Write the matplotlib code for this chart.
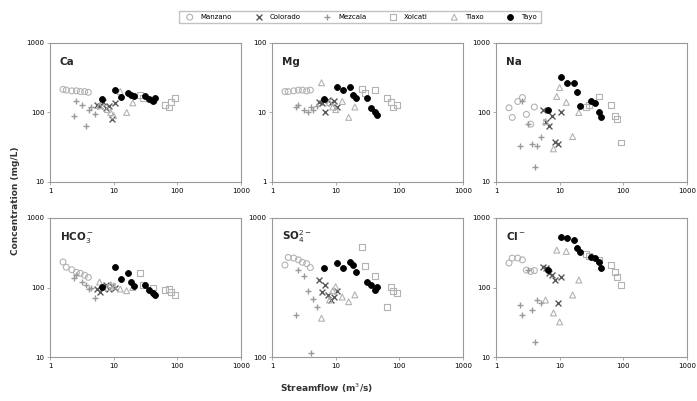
import numpy as np
import matplotlib
matplotlib.use("Agg")
import matplotlib.pyplot as plt

rivers = ["Manzano", "Colorado", "Mezcala", "Xolcatl", "Tlaxo", "Tayo"]

# streamflow (m3/s) per river
q_manzano = [1.6, 1.8, 2.2, 2.6, 3.0, 3.5, 4.0]
q_colorado = [5.5, 6.2, 6.8, 7.5, 8.4, 9.3, 10.5]
q_mezcala = [2.4, 2.6, 3.2, 3.7, 4.1, 4.4, 5.1]
q_xolcatl = [26, 29, 41, 64, 75, 80, 93]
q_tlaxo = [6, 8, 9, 10, 12.7, 16, 20]
q_tayo = [6.5, 10.5, 13, 17, 19, 21, 31, 36, 42, 44]

# concentrations (mg/L) per panel, per river
ca = {
    "Manzano": [215, 210, 205, 205, 200, 200, 195],
    "Colorado": [130, 122, 140, 115, 125, 80, 135],
    "Mezcala": [88, 144, 130, 63, 110, 120, 95],
    "Xolcatl": [180, 160, 150, 130, 118, 140, 164],
    "Tlaxo": [125, 110, 100, 90, 200, 100, 138],
    "Tayo": [155, 214, 165, 193, 180, 175, 170, 155, 148, 160],
}
mg = {
    "Manzano": [20, 20, 20.5, 21, 21, 20.5, 21],
    "Colorado": [14, 13.9, 10.3, 15, 13.9, 14.4, 12],
    "Mezcala": [12, 13, 11, 10.3, 12, 11, 12.5],
    "Xolcatl": [22, 19, 21, 16.4, 14, 11.8, 13],
    "Tlaxo": [26.8, 13.9, 12, 11, 14.4, 8.5, 12],
    "Tayo": [15.5, 23, 21, 23.5, 18, 16, 16.3, 11.8, 10.3, 9.3],
}
na = {
    "Manzano": [117, 85, 144, 164, 94, 68, 120],
    "Colorado": [110, 74, 63, 90, 38, 35, 100],
    "Mezcala": [33, 144, 68, 35, 16.5, 33, 45],
    "Xolcatl": [120, 130, 170, 130, 88, 80, 37],
    "Tlaxo": [74, 30, 170, 228, 140, 45, 100],
    "Tayo": [110, 325, 270, 270, 200, 123, 145, 135, 103, 87],
}
hco3 = {
    "Manzano": [233, 196, 180, 165, 160, 150, 140],
    "Colorado": [95, 86, 100, 110, 95, 105, 100],
    "Mezcala": [137, 150, 120, 110, 95, 100, 71],
    "Xolcatl": [162, 110, 100, 92, 95, 85, 78],
    "Tlaxo": [120, 100, 110, 105, 95, 90, 100],
    "Tayo": [102, 196, 131, 162, 120, 105, 108, 92, 83, 78],
}
so4 = {
    "Manzano": [459, 520, 515, 500, 480, 470, 440],
    "Colorado": [358, 293, 330, 280, 257, 270, 300],
    "Mezcala": [200, 423, 380, 300, 107, 260, 230],
    "Xolcatl": [618, 450, 380, 230, 319, 300, 290],
    "Tlaxo": [190, 257, 300, 320, 270, 250, 280],
    "Tayo": [437, 477, 437, 482, 459, 409, 347, 330, 303, 319],
}
cl = {
    "Manzano": [225, 265, 265, 250, 178, 170, 175],
    "Colorado": [200, 190, 160, 150, 128, 60, 140],
    "Mezcala": [56, 40, 178, 47, 16.5, 66, 60],
    "Xolcatl": [300, 280, 250, 210, 167, 140, 108],
    "Tlaxo": [66, 43, 345, 32, 330, 78, 128],
    "Tayo": [178, 537, 515, 480, 373, 325, 274, 265, 232, 190],
}

flows = {"Manzano": q_manzano, "Colorado": q_colorado, "Mezcala": q_mezcala,
         "Xolcatl": q_xolcatl, "Tlaxo": q_tlaxo, "Tayo": q_tayo}

# marker, colour, filled?
styles = {
    "Manzano": ("o", "0.7", False),
    "Colorado": ("x", "0.35", True),
    "Mezcala": ("+", "0.6", True),
    "Xolcatl": ("s", "0.7", False),
    "Tlaxo": ("^", "0.7", False),
    "Tayo": ("o", "black", True),
}

panels = [
    ("Ca", ca, (10, 1000), [10, 100, 1000]),
    ("Mg", mg, (1, 100), [1, 10, 100]),
    ("Na", na, (10, 1000), [10, 100, 1000]),
    (r"HCO$_3^-$", hco3, (10, 1000), [10, 100, 1000]),
    (r"SO$_4^{2-}$", so4, (100, 1000), [100, 1000]),
    (r"Cl$^-$", cl, (10, 1000), [10, 100, 1000]),
]

fig = plt.figure(figsize=(6.97, 4.01), dpi=100)
lefts = [50 / 697, 272 / 697, 496 / 697]
bottoms = [1 - 182 / 401, 1 - 357 / 401]
w = 191 / 697
h = 139 / 401

handles = {}
for i, (name, data, ylim, yticks) in enumerate(panels):
    ax = fig.add_axes([lefts[i % 3], bottoms[i // 3], w, h])
    for r in rivers:
        m, col, filled = styles[r]
        if m in ("x", "+"):
            sc = ax.scatter(flows[r], data[r], s=18, marker=m, c=col,
                            linewidths=1.0, zorder=2)
        elif filled:
            sc = ax.scatter(flows[r], data[r], s=18, marker=m, c=col,
                            edgecolors=col, linewidths=0.6, zorder=3)
        else:
            sc = ax.scatter(flows[r], data[r], s=18, marker=m,
                            facecolors="none", edgecolors=col,
                            linewidths=0.8, zorder=2)
        handles[r] = sc
    ax.set_xscale("log")
    ax.set_yscale("log")
    ax.set_xlim(1, 1000)
    ax.set_ylim(*ylim)
    ax.set_xticks([1, 10, 100, 1000])
    ax.set_xticklabels(["1", "10", "100", "1000"])
    ax.set_yticks(yticks)
    ax.set_yticklabels([str(t) for t in yticks])
    ax.minorticks_off()
    ax.tick_params(labelsize=5, length=2, width=0.5, color="0.55", pad=2)
    for sp in ax.spines.values():
        sp.set_color("0.6")
        sp.set_linewidth(0.8)
    ax.text(0.05, 0.84, name, transform=ax.transAxes, fontsize=7.5,
            fontweight="bold", color="0.15")

fig.legend([handles[r] for r in rivers], rivers, loc="center",
           bbox_to_anchor=(360 / 697, 1 - 17 / 401), ncol=6, fontsize=5,
           frameon=True, edgecolor="0.7", fancybox=False, handletextpad=0.6,
           columnspacing=2.8, borderpad=0.5)

fig.text(0.022, 0.5, "Concentration (mg/L)", rotation=90, va="center",
         ha="center", fontsize=6.5, fontweight="bold", color="0.2")
fig.text(0.468, 0.032, "Streamflow (m$^3$/s)", ha="center", va="center",
         fontsize=6.5, fontweight="bold", color="0.2")

fig.savefig("out.png", dpi=100)
